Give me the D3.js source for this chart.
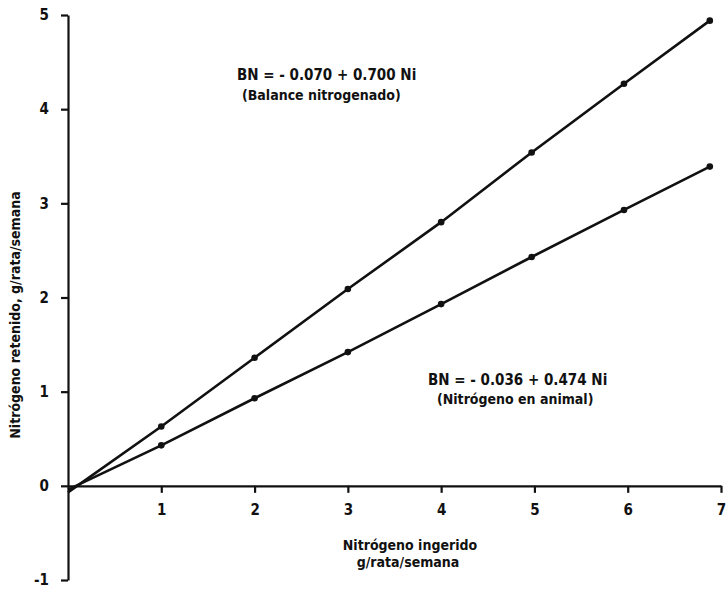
<!DOCTYPE html>
<html>
<head>
<meta charset="utf-8">
<script src="https://cdn.jsdelivr.net/npm/d3@7"></script>
<style>
  body { margin: 0; background: #fff; }
  text { font-family: "DejaVu Sans Condensed", "Liberation Sans Narrow", sans-serif; font-weight: bold; fill: #111; }
  .axis path, .axis line { stroke: #111; stroke-width: 2.2; }
  .axis text { font-size: 15px; }
</style>
</head>
<body>
<div class="chart"></div>
<script>
// values
var nIngerido = [0, 1, 2, 3, 4, 4.97, 5.96, 6.88];
var balance = [-0.07, 0.63, 1.36, 2.09, 2.80, 3.54, 4.27, 4.94];
var enAnimal = [-0.04, 0.43, 0.93, 1.42, 1.93, 2.43, 2.93, 3.39];
var xTicks = [1, 2, 3, 4, 5, 6, 7];
var yTicks = [-1, 0, 1, 2, 3, 4, 5];

var svgWidth = 726;
var svgHeight = 589;

var margin = {
  top: 15,
  right: 5,
  bottom: 9,
  left: 68
};

var width = svgWidth - margin.left - margin.right;
var height = svgHeight - margin.top - margin.bottom;

var svg = d3.select(".chart")
  .append("svg")
  .attr("width", svgWidth)
  .attr("height", svgHeight);

var chartGroup = svg.append("g")
  .attr("transform", `translate(${margin.left}, ${margin.top})`);

var xScale = d3.scaleLinear()
  .domain([0, 7])
  .range([0, width]);

var yScale = d3.scaleLinear()
  .domain([-1, 5])
  .range([height, 0]);

// axes
var bottomAxis = d3.axisBottom(xScale)
  .tickValues(xTicks)
  .tickSize(7)
  .tickSizeOuter(0)
  .tickPadding(12)
  .tickFormat(d3.format("d"));

var leftAxis = d3.axisLeft(yScale)
  .tickValues(yTicks)
  .tickSize(7)
  .tickSizeOuter(0)
  .tickPadding(12)
  .tickFormat(d => d < 0 ? "-" + Math.abs(d) : d);

chartGroup.append("g")
  .attr("class", "axis")
  .attr("transform", `translate(0, ${yScale(0)})`)
  .call(bottomAxis);

chartGroup.append("g")
  .attr("class", "axis")
  .call(leftAxis);

chartGroup.selectAll(".axis .domain").attr("fill", "none");

// lines + points
var series = [balance, enAnimal];

var line = d3.line()
  .x((d, i) => xScale(nIngerido[i]))
  .y(d => yScale(d));

series.forEach(function(vals) {
  chartGroup.append("path")
    .datum(vals)
    .attr("fill", "none")
    .attr("stroke", "#111")
    .attr("stroke-width", 2.6)
    .attr("d", line);

  chartGroup.selectAll(null)
    .data(vals.slice(1))
    .enter()
    .append("circle")
    .attr("cx", (d, i) => xScale(nIngerido[i + 1]))
    .attr("cy", d => yScale(d))
    .attr("r", 3.3)
    .attr("fill", "#111");
});

// equations
chartGroup.append("text")
  .attr("x", 237 - margin.left)
  .attr("y", 80 - margin.top)
  .style("font-size", "15px")
  .text("BN = - 0.070 + 0.700 Ni");

chartGroup.append("text")
  .attr("x", 242 - margin.left)
  .attr("y", 100 - margin.top)
  .style("font-size", "14px")
  .text("(Balance nitrogenado)");

chartGroup.append("text")
  .attr("x", 428 - margin.left)
  .attr("y", 385 - margin.top)
  .style("font-size", "15px")
  .text("BN = - 0.036 + 0.474 Ni");

chartGroup.append("text")
  .attr("x", 437 - margin.left)
  .attr("y", 404 - margin.top)
  .style("font-size", "14px")
  .text("(Nitrógeno en animal)");

// axis labels
chartGroup.append("text")
  .attr("transform", "rotate(-90)")
  .attr("x", -(315 - margin.top))
  .attr("y", 20 - margin.left)
  .attr("text-anchor", "middle")
  .style("font-size", "14px")
  .text("Nitrógeno retenido, g/rata/semana");

chartGroup.append("text")
  .attr("x", 410 - margin.left)
  .attr("y", 550 - margin.top)
  .attr("text-anchor", "middle")
  .style("font-size", "14px")
  .text("Nitrógeno ingerido");

chartGroup.append("text")
  .attr("x", 408 - margin.left)
  .attr("y", 567 - margin.top)
  .attr("text-anchor", "middle")
  .style("font-size", "14px")
  .text("g/rata/semana");
</script>
</body>
</html>
